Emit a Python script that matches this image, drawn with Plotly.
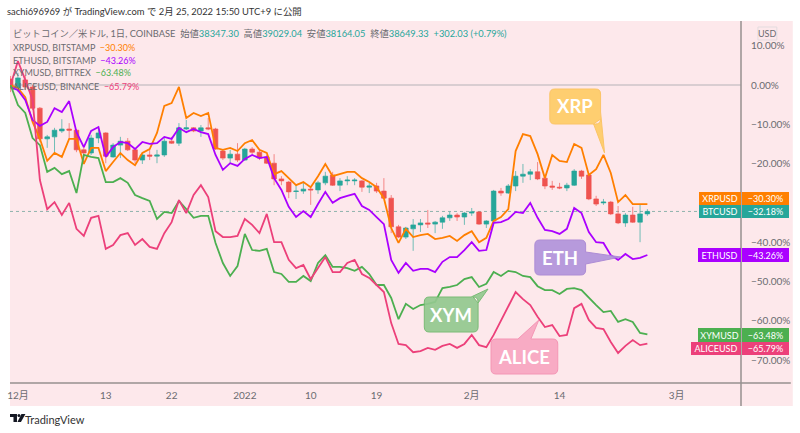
# plot.py
import pandas as pd
import plotly.graph_objects as go

dates = pd.date_range("2021-11-30", periods=88, freq="D")

xrp = [0, -0.8, -3.1, -9.4, -13.7, -19.3, -17.3, -18.3, -13.7, -13.7, -20.1, -16.0, -16.0, -21.9, -19.6, -17.3,
       -19.1, -20.4, -17.3, -16.3, -12.2, -5.3, -4.6, -0.5, -8.4, -7.1, -7.9, -7.1, -16.0, -16.5, -16.0, -16.8,
       -14.8, -14.0, -16.5, -17.3, -22.7, -21.9, -23.7, -25.5, -24.7, -26.0, -23.2, -20.1, -23.2, -22.7, -22.1, -22.1,
       -23.7, -24.7, -26.0, -28.8, -36.4, -40.2, -36.6, -38.7, -38.2, -37.9, -39.2, -38.9, -38.4, -39.7, -38.2, -37.2,
       -40.0, -38.9, -34.6, -33.6, -31.6, -16.8, -12.5, -13.0, -17.6, -23.7, -17.8, -19.3, -19.6, -15.0, -16.0, -22.9,
       -21.4, -17.8, -22.4, -29.8, -28.0, -30.3, -30.3, -30.30]
eth = [-0.5, -1.3, -3.8, -8.9, -10.4, -9.4, -5.9, -6.9, -4.1, -12.0, -15.8, -11.7, -10.7, -18.3, -15.8, -14.5,
       -14.8, -16.3, -14.5, -15.0, -14.8, -13.2, -13.7, -10.9, -12.0, -11.2, -12.0, -12.5, -17.8, -21.6, -19.9, -20.6,
       -18.8, -17.8, -18.6, -18.3, -23.7, -26.7, -31.0, -33.6, -32.1, -33.6, -30.3, -27.2, -30.0, -28.8, -28.2, -27.7,
       -30.8, -31.8, -33.6, -35.4, -44.5, -47.8, -45.3, -47.3, -46.8, -46.8, -47.6, -45.0, -43.8, -43.8, -42.0, -40.0,
       -42.2, -42.0, -35.1, -34.9, -34.1, -32.3, -32.6, -30.0, -33.8, -36.9, -37.2, -37.9, -36.6, -31.3, -32.6, -37.4,
       -40.0, -40.2, -43.3, -44.5, -43.0, -44.3, -44.0, -43.26]
xym = [0, -5.1, -7.1, -13.5, -15.3, -22.1, -21.1, -22.7, -21.9, -27.5, -17.8, -18.3, -18.6, -24.7, -24.7, -23.7,
       -24.9, -28.0, -28.8, -29.5, -34.1, -32.3, -32.6, -29.5, -31.6, -33.8, -33.3, -33.3, -40.2, -45.3, -48.6, -46.1,
       -37.9, -42.0, -42.2, -41.7, -47.6, -48.1, -50.1, -50.1, -48.6, -49.9, -45.3, -43.3, -46.3, -46.3, -46.6, -47.3,
       -46.3, -48.1, -50.9, -50.9, -54.2, -59.6, -55.7, -57.0, -56.0, -55.7, -55.2, -51.7, -51.4, -50.9, -49.4, -48.9,
       -51.4, -50.6, -47.6, -48.6, -47.3, -47.6, -48.6, -48.9, -51.2, -52.2, -52.2, -53.2, -51.9, -51.7, -52.2, -54.2,
       -56.0, -57.8, -57.5, -60.3, -59.6, -60.3, -63.1, -63.48]
alice = [0, 6.1, 1.3, -3.8, -24.2, -31.6, -29.8, -33.1, -30.0, -36.6, -38.4, -33.8, -33.3, -41.7, -40.7, -38.2,
         -37.7, -40.7, -39.2, -41.2, -41.7, -37.7, -34.9, -29.3, -32.6, -28.0, -25.5, -28.5, -37.2, -38.7, -38.7, -38.4,
         -34.1, -35.6, -37.7, -32.8, -40.0, -40.0, -44.5, -46.6, -45.8, -49.4, -46.6, -43.8, -47.6, -47.6, -45.3, -44.5,
         -48.1, -49.1, -50.9, -52.7, -60.6, -65.9, -66.2, -68.0, -67.7, -66.9, -67.4, -66.4, -65.9, -66.9, -65.9, -63.6,
         -66.2, -66.7, -63.6, -60.1, -56.5, -52.7, -54.5, -56.0, -59.0, -61.6, -61.1, -63.9, -63.6, -56.8, -55.7, -59.8,
         -61.8, -62.1, -65.4, -68.2, -66.4, -64.9, -66.2, -65.79]

btc_open = [1.5, -0.8, 1.3, -0.5, -5.9, -13.7, -13.2, -11.7, -11.2, -11.5, -16.5, -17.3, -13.5, -12.2, -18.3, -15.3,
            -14.3, -16.5, -19.1, -17.8, -18.1, -17.8, -14.3, -14.8, -11.2, -10.9, -11.7, -10.9, -11.2, -16.8, -18.6, -17.6,
            -19.1, -16.3, -17.1, -18.3, -19.9, -23.9, -24.7, -27.1, -27.0, -26.5, -26.7, -24.9, -22.9, -25.5, -24.4, -24.4,
            -24.4, -26.0, -25.7, -27.0, -28.8, -36.1, -38.7, -36.6, -35.6, -35.1, -35.4, -34.9, -33.8, -33.1, -33.6, -32.6,
            -32.3, -35.4, -34.6, -27.0, -27.5, -25.7, -23.2, -22.7, -22.1, -23.7, -25.7, -26.0, -26.2, -25.5, -21.9, -22.9,
            -29.0, -30.0, -29.8, -32.8, -35.1, -33.1, -34.9, -32.8]
btc_high = [2.3, 3.1, 2.5, 0, -5.6, -12.7, -10.9, -8.7, -9.7, -11.2, -15.3, -12.7, -10.7, -12.0, -14.8, -13.2,
            -13.5, -16.3, -17.3, -16.5, -16.5, -13.5, -13.2, -9.7, -8.9, -10.7, -10.2, -8.4, -10.9, -16.5, -16.5, -14.8,
            -16.0, -15.8, -16.5, -17.8, -17.6, -23.2, -24.4, -25.5, -24.9, -26.2, -24.4, -22.1, -22.1, -23.7, -23.2, -23.7,
            -24.2, -24.9, -24.9, -23.7, -28.0, -35.6, -36.1, -34.1, -34.1, -31.8, -34.6, -33.3, -32.3, -32.6, -32.3, -31.3,
            -32.1, -34.4, -26.7, -26.2, -25.2, -21.9, -20.1, -21.4, -19.6, -23.4, -24.4, -24.9, -24.9, -21.4, -21.6, -22.7,
            -28.2, -29.0, -29.5, -30.8, -32.6, -31.0, -30.3, -31.6]
btc_low = [-1.8, -1.8, -1.3, -6.4, -14.5, -16.0, -17.3, -12.2, -13.5, -17.1, -19.9, -17.8, -14.8, -19.9, -18.5, -18.6,
           -16.8, -19.9, -20.1, -19.1, -19.9, -18.3, -15.0, -15.5, -11.5, -12.0, -13.2, -11.5, -16.5, -19.1, -19.9, -19.6,
           -19.3, -17.6, -19.1, -20.1, -25.5, -25.5, -28.8, -29.0, -27.7, -30.5, -27.7, -25.5, -25.7, -27.0, -25.5, -25.5,
           -27.2, -27.5, -27.5, -29.0, -37.7, -38.9, -39.2, -42.2, -37.4, -36.4, -37.7, -36.6, -34.6, -34.6, -35.6, -33.3,
           -35.6, -36.4, -34.9, -28.2, -27.7, -27.0, -24.9, -24.2, -24.2, -26.5, -26.7, -26.5, -27.0, -25.7, -23.9, -29.3,
           -30.8, -30.5, -33.1, -35.4, -36.1, -35.1, -40.0, -33.3]
btc_close = [-0.8, 1.8, -0.5, -5.9, -13.7, -13.2, -11.5, -11.2, -11.5, -16.5, -17.3, -13.5, -12.2, -18.1, -15.3, -14.3,
             -16.5, -19.1, -17.8, -18.1, -17.8, -14.3, -14.8, -10.9, -10.9, -11.7, -10.9, -11.2, -16.3, -18.6, -17.6, -19.1,
             -16.3, -17.1, -18.6, -19.9, -23.9, -24.4, -27.2, -27.0, -26.5, -26.7, -24.9, -23.2, -25.5, -24.4, -24.2, -24.2,
             -26.0, -25.7, -27.0, -28.8, -36.1, -38.7, -36.4, -35.6, -35.1, -35.4, -34.9, -33.8, -33.1, -33.6, -32.6, -32.3,
             -35.4, -34.6, -27.0, -27.5, -25.7, -23.2, -22.7, -22.1, -23.9, -25.7, -26.0, -26.2, -25.5, -21.9, -23.2, -29.0,
             -30.3, -29.8, -32.8, -35.1, -33.1, -34.9, -32.8, -32.18]

y_ticks = [10, 0, -10, -20, -40, -50, -60, -70]
y_labels = ["10.00%", "0.00%", "−10.00%", "−20.00%", "−40.00%", "−50.00%", "−60.00%", "−70.00%"]
# "14" sits one bar left of its date on the original axis
x_ticks = ["2021-12-01", "2021-12-13", "2021-12-22", "2022-01-01", "2022-01-10", "2022-01-19", "2022-02-01", "2022-02-13", "2022-03-01"]
x_labels = ["12月", "13", "22", "2022", "10", "19", "2月", "14", "3月"]

FONT = "Lato, Noto Sans CJK JP"
PINK = "#fde8eb"
GREY = "#6b6b70"
TEAL = "#26a69a"
RED = "#ef5350"
ORANGE = "#ff7f00"
PURPLE = "#aa00ff"
GREEN = "#4caf50"
ROSE = "#ec407a"

# pane edges in the 800x433 picture
L, R, T, B = 7, 741, 21, 383


def px(x):
    return (x - L) / (R - L)


def py(y):
    return (B - y) / (B - T)


def note(x, y, text, size=10, color=GREY, anchor="left", **kw):
    # left anchored annotations land about 5px to the right of x
    if anchor == "left":
        x -= 5
    return dict(xref="paper", yref="paper", x=px(x), y=py(y), text=text, showarrow=False, xanchor=anchor,
                yanchor="middle", font=dict(family=FONT, size=size, color=color), **kw)


def tag(x0, x1, y0, y1, text, color):
    return dict(xref="paper", yref="paper", x=px(x0), y=py(y0), text=text, showarrow=False, xanchor="left",
                yanchor="top", width=x1 - x0, height=y1 - y0, bgcolor=color, borderpad=0, borderwidth=0,
                align="center", valign="middle", font=dict(family=FONT, size=9, color="white"))


def bubble(x0, x1, y0, y1, tail, fill, edge, r=5):
    # rounded box with a pointer, tail = points spliced into one side
    side, pts = tail
    p = [f"M{px(x0 + r)},{py(y0)}"]
    if side == "top":
        p += [f"L{px(a)},{py(b)}" for a, b in pts]
    p += [f"L{px(x1 - r)},{py(y0)}", f"Q{px(x1)},{py(y0)} {px(x1)},{py(y0 + r)}"]
    if side == "right":
        p += [f"L{px(a)},{py(b)}" for a, b in pts]
    p += [f"L{px(x1)},{py(y1 - r)}", f"Q{px(x1)},{py(y1)} {px(x1 - r)},{py(y1)}"]
    if side == "bottom":
        p += [f"L{px(a)},{py(b)}" for a, b in pts]
    p += [f"L{px(x0 + r)},{py(y1)}", f"Q{px(x0)},{py(y1)} {px(x0)},{py(y1 - r)}",
          f"L{px(x0)},{py(y0 + r)}", f"Q{px(x0)},{py(y0)} {px(x0 + r)},{py(y0)}", "Z"]
    return dict(type="path", xref="paper", yref="paper", path=" ".join(p), fillcolor=fill,
                line=dict(color=edge, width=1), layer="above", opacity=0.92)


fig = go.Figure()
fig.add_trace(go.Candlestick(
    x=dates, open=btc_open, high=btc_high, low=btc_low, close=btc_close, whiskerwidth=0,
    increasing=dict(fillcolor=TEAL, line=dict(color="rgba(38,166,154,0.65)", width=1)),
    decreasing=dict(fillcolor=RED, line=dict(color="rgba(239,83,80,0.65)", width=1)),
))
for name, vals, col in [("XRPUSD", xrp, ORANGE), ("ETHUSD", eth, PURPLE), ("XYMUSD", xym, GREEN), ("ALICEUSD", alice, ROSE)]:
    fig.add_trace(go.Scatter(x=dates, y=vals, name=name, mode="lines", line=dict(color=col, width=1.8)))

shapes = [
    # band behind pane, price scale and time scale
    dict(type="rect", xref="paper", yref="paper", x0=0, x1=px(793), y0=py(406), y1=1, fillcolor=PINK, line_width=0, layer="below"),
    dict(type="line", xref="paper", yref="y", x0=0, x1=1, y0=0, y1=0, line=dict(color="#cdc5c9", width=1.5), layer="below"),
    dict(type="line", xref="paper", yref="y", x0=0, x1=1, y0=btc_close[-1], y1=btc_close[-1],
         line=dict(color="#8fb3ad", width=1, dash="dot"), layer="below"),
    dict(type="line", xref="paper", yref="paper", x0=1, x1=1, y0=py(406), y1=1, line=dict(color="#96918f", width=1.5)),
    dict(type="line", xref="paper", yref="paper", x0=0, x1=px(791), y0=0, y1=0, line=dict(color="#96918f", width=1.5)),
    dict(type="rect", xref="paper", yref="paper", x0=px(758), x1=px(777), y0=py(40), y1=py(27), fillcolor=PINK,
         line=dict(color="#e3dcdf", width=1)),
    bubble(549, 600, 89, 124, ("right", [(600, 112), (604, 153), (593, 124)]), "#ffcc66", "#fbc25c"),
    bubble(534, 585, 240, 275, ("right", [(585, 252), (620, 257), (585, 264)]), "#b294db", "#a785d4"),
    bubble(423, 477, 297, 332, ("top", [(470, 297), (487, 289), (477, 303)]), "#93c98f", "#70b86d"),
    bubble(490, 557, 339, 374, ("top", [(517, 339), (538, 320), (530, 339)]), "#f8a6c1", "#f48fb1"),
    # logo
    dict(type="path", xref="paper", yref="paper", fillcolor="#131722", line_width=0,
         path=f"M{px(7)},{py(414)} L{px(14)},{py(414)} L{px(14)},{py(422)} L{px(10.5)},{py(422)} L{px(10.5)},{py(417)} L{px(7)},{py(417)} Z"),
    dict(type="circle", xref="paper", yref="paper", fillcolor="#131722", line_width=0, x0=px(14.5), x1=px(17.5), y0=py(417), y1=py(414)),
    dict(type="path", xref="paper", yref="paper", fillcolor="#131722", line_width=0,
         path=f"M{px(18.5)},{py(414)} L{px(22.5)},{py(414)} L{px(18)},{py(422)} L{px(14.5)},{py(422)} Z"),
]

o = f'<span style="color:{TEAL}">'
annotations = [
    note(7, 12, "sachi696969 が TradingView.com で 2月 25, 2022 15:50 UTC+9 に公開", size=9.4, color="#333333"),
    note(13, 33, f"ビットコイン／米ドル, 1日, COINBASE  始値{o}38347.30</span>  高値{o}39029.04</span>  "
                 f"安値{o}38164.05</span>  終値{o}38649.33</span>  {o}+302.03 (+0.79%)</span>", size=9.3),
    note(13, 47, f'XRPUSD, BITSTAMP  <span style="color:{ORANGE}">−30.30%</span>', size=9),
    note(13, 60, f'ETHUSD, BITSTAMP  <span style="color:{PURPLE}">−43.26%</span>', size=9),
    note(13, 73, f'XYMUSD, BITTREX  <span style="color:{GREEN}">−63.48%</span>', size=9),
    note(13, 87, f'ALICEUSD, BINANCE  <span style="color:{ROSE}">−65.79%</span>', size=9),
    note(767.5, 33.5, "USD", size=9, anchor="center"),
    note(574.5, 106, "<b>XRP</b>", size=18.5, color="white", anchor="center"),
    note(559.5, 258, "<b>ETH</b>", size=18.5, color="white", anchor="center"),
    note(450, 315, "<b>XYM</b>", size=18.5, color="white", anchor="center"),
    note(523, 357, "<b>ALICE</b>", size=18.5, color="white", anchor="center"),
    note(25, 419, "TradingView", size=11, color="#333333"),
    tag(699, 741, 192, 205, "XRPUSD", ORANGE), tag(742, 789, 192, 205, "−30.30%", ORANGE),
    tag(699, 741, 205, 218, "BTCUSD", TEAL), tag(742, 789, 205, 218, "−32.18%", TEAL),
    tag(698, 741, 248, 262, "ETHUSD", PURPLE), tag(742, 789, 248, 262, "−43.26%", PURPLE),
    tag(698, 741, 328, 342, "XYMUSD", GREEN), tag(742, 789, 328, 342, "−63.48%", GREEN),
    tag(691, 741, 342, 355, "ALICEUSD", ROSE), tag(742, 789, 342, 355, "−65.79%", ROSE),
]

fig.update_layout(
    width=800, height=433, showlegend=False, paper_bgcolor="white", plot_bgcolor=PINK, boxgap=0.1,
    margin=dict(l=L, r=800 - R, t=T, b=433 - B), font=dict(family=FONT, size=10, color=GREY),
    shapes=shapes, annotations=annotations,
    xaxis=dict(type="date", range=["2021-11-29 22:00", "2022-03-09 19:00"], rangeslider=dict(visible=False),
               tickmode="array", tickvals=x_ticks, ticktext=x_labels, showgrid=False, zeroline=False,
               ticks="outside", ticklen=3, tickcolor="rgba(0,0,0,0)", tickfont=dict(size=10, color=GREY), tickangle=0),
    yaxis=dict(side="right", range=[16.29, -75.84][::-1], tickmode="array", tickvals=y_ticks, ticktext=y_labels,
               showgrid=False, zeroline=False, ticks="outside", ticklen=7, tickcolor="rgba(0,0,0,0)",
               tickfont=dict(size=10, color=GREY)),
)

# page body has a default margin, drop it so the figure fills the window
fig.write_html("out.html", config={"displayModeBar": False}, post_script="document.body.style.margin='0';")
